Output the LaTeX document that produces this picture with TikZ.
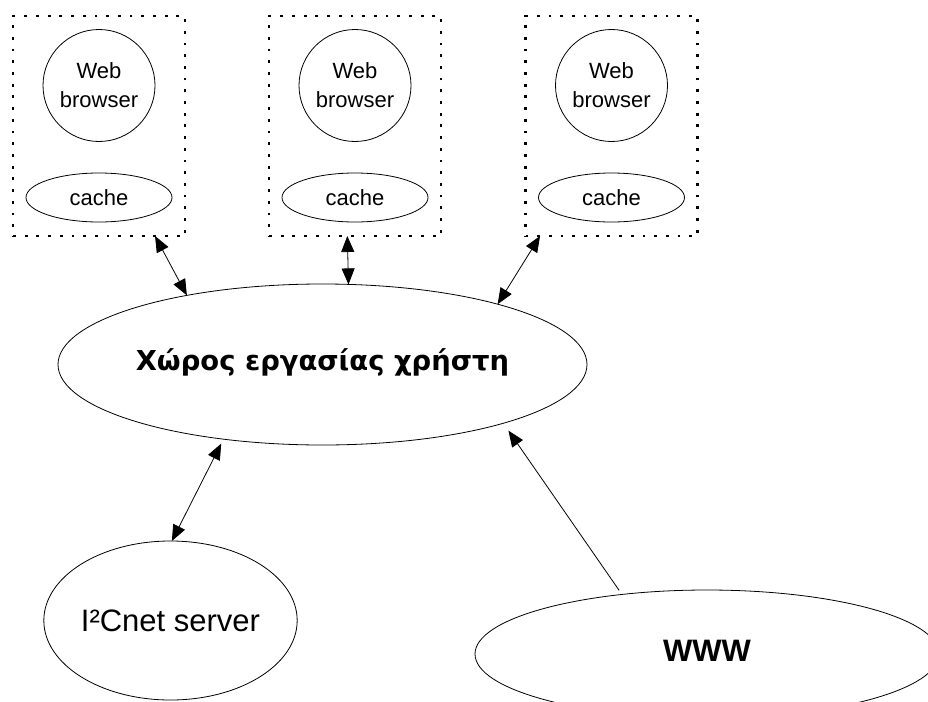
\documentclass[tikz,border=0pt]{standalone}
\usepackage{fontspec}
\setmainfont{Liberation Sans}
\newfontfamily\dvsfont{DejaVu Sans}
\usetikzlibrary{shapes.geometric,arrows.meta}
\begin{document}
\begin{tikzpicture}[x=1pt,y=-1pt,
  every node/.style={inner sep=0pt,outer sep=0pt},
  grp/.style={draw,line width=2.8pt,dash pattern=on 2.8pt off 8.9pt,minimum width=172pt,minimum height=220pt},
  browser/.style={draw,circle,line width=0.8pt,minimum size=112pt,align=center,font=\fontsize{22}{29}\selectfont},
  cachebox/.style={draw,ellipse,line width=0.8pt,minimum width=146pt,minimum height=49pt,font=\fontsize{22}{26}\selectfont},
  bigell/.style={draw,ellipse,line width=0.8pt},
  tip/.tip={Triangle[length=16pt,width=13pt]},
  bi/.style={line width=0.8pt,tip-tip},
  uni/.style={line width=0.8pt,-tip}]
\useasboundingbox (0,0) rectangle (928,701);
\clip (0,0) rectangle (928,701);
\fill[white] (0,0) rectangle (928,701);
% groups
\node[grp] (b1) at (99,126) {};
\node[grp] (b2) at (355,126) {};
\node[grp] (b3) at (611.5,126) {};
\node[browser] (w1) at (99,85.5) {Web\\browser};
\node[browser] (w2) at (355,85.5) {Web\\browser};
\node[browser] (w3) at (611.5,85.5) {Web\\browser};
\node[cachebox] (c1) at (99,197.5) {cache};
\node[cachebox] (c2) at (355,197.5) {cache};
\node[cachebox] (c3) at (611.5,197.5) {cache};
% main workspace
\node[bigell,minimum width=529pt,minimum height=161pt] (main) at (322.5,364.5) {};
\node (maintext) at (322.5,362) {\dvsfont\bfseries\fontsize{27.4}{31}\selectfont Χώρος εργασίας χρήστη};
% server
\node[bigell,minimum width=225pt,minimum height=159pt,font=\fontsize{31}{36}\selectfont] (i2c) at (170.5,620.5) {I²Cnet server};
% www
\node[bigell,minimum width=464pt,minimum height=128pt] (www) at (707,654) {};
\node (wwwtext) at (707,651) {\bfseries\fontsize{31}{36}\selectfont WWW};
% connectors
\draw[bi] (b1.-63) -- (main.153.6);
\draw[bi] (b2.-94) -- (main.72.9);
\draw[bi] (b3.-123.3) -- (main.19.9);
\draw[bi,shorten <=5pt] (main.-143.5) -- (i2c.89);
\draw[uni,shorten <=5pt,shorten >=9pt] (www.145) -- (main.-18);
\end{tikzpicture}
\end{document}
